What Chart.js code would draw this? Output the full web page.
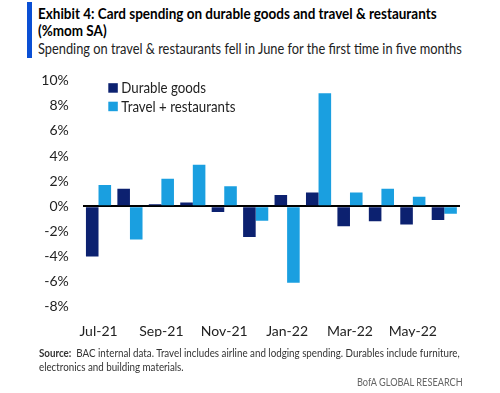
<!DOCTYPE html>
<html>
<head>
<meta charset="utf-8">
<script src="https://cdn.jsdelivr.net/npm/chart.js@4.4.1/dist/chart.umd.min.js"></script>
<style>
  html, body { margin:0; padding:0; background:#fff; }
  body { width:500px; height:393px; position:relative; overflow:hidden; font-family:Lato, sans-serif; }
  #bar { position:absolute; left:27px; top:2px; width:5px; height:56px; background:#0a4fd4; }
  .t { position:absolute; left:38px; white-space:nowrap; color:#000; transform-origin:0 0; }
  #title1 { top:5px; font-weight:bold; font-size:15px; line-height:17px; }
  #title2 { top:22px; font-weight:bold; font-size:15px; line-height:17px; }
  #sub { top:40px; font-size:15.5px; line-height:17px; color:#222; }
  #src1 { top:346px; font-size:11px; left:39px; color:#333; }
  #src2 { top:360px; font-size:11px; left:39px; color:#333; }
  #brand { position:absolute; top:375px; left:357px; font-size:11px; color:#666; white-space:nowrap; transform-origin:0 0; }
  #wrap { position:absolute; left:0; top:0; width:500px; height:393px; }
</style>
</head>
<body>
<div id="bar"></div>
<div class="t" id="title1" data-w="399">Exhibit 4: Card spending on durable goods and travel &amp; restaurants</div>
<div class="t" id="title2" data-w="0">(%mom SA)</div>
<div class="t" id="sub" data-w="424">Spending on travel &amp; restaurants fell in June for the first time in five months</div>
<div id="wrap"><canvas id="c" width="500" height="393"></canvas></div>
<div class="t" id="src1" data-w="421"><b>Source:</b>&nbsp; BAC internal data. Travel includes airline and lodging spending. Durables include furniture,</div>
<div class="t" id="src2" data-w="0">electronics and building materials.</div>
<div id="brand" data-w="106">BofA GLOBAL RESEARCH</div>
<script>
const categories = ["Jul-21","Aug-21","Sep-21","Oct-21","Nov-21","Dec-21","Jan-22","Feb-22","Mar-22","Apr-22","May-22","Jun-22"];
const durableGoods = [-4.0, 1.4, 0.15, 0.3, -0.45, -2.45, 0.9, 1.1, -1.6, -1.2, -1.45, -1.1];
const travelRestaurants = [1.7, -2.65, 2.2, 3.3, 1.6, -1.15, -6.1, 9.0, 1.1, 1.4, 0.75, -0.6];
const yTicks = [-8, -6, -4, -2, 0, 2, 4, 6, 8, 10];

// horizontally condense HTML text to the reference widths
let condense = 1;
[['title1'],['sub'],['src1'],['brand']].forEach(([id]) => {
  const el = document.getElementById(id);
  const w = +el.dataset.w;
  const s = w / el.scrollWidth;
  el.style.transform = 'scaleX(' + s + ')';
  if (id === 'title1') document.getElementById('title2').style.transform = 'scaleX(' + s + ')';
  if (id === 'src1') document.getElementById('src2').style.transform = 'scaleX(' + s + ')';
});

const FONT = 'Lato, sans-serif';

const legendPlugin = {
  id: 'insideLegend',
  afterDraw(chart) {
    const ctx = chart.ctx, a = chart.chartArea;
    ctx.save();
    ctx.font = '15px ' + FONT;
    ctx.textBaseline = 'middle';
    chart.data.datasets.forEach((ds, i) => {
      const x = a.left + 25.5, y = a.top + 2.5 + i * 18.5;
      ctx.fillStyle = ds.backgroundColor;
      ctx.fillRect(x, y, 9.5, 9.5);
      ctx.fillStyle = '#222';
      const tx = x + 13;
      ctx.save();
      ctx.translate(tx, y + 5);
      ctx.scale(0.885, 1);
      ctx.fillText(ds.label, 0, 0);
      ctx.restore();
    });
    ctx.restore();
  }
};

new Chart(document.getElementById('c'), {
  type: 'bar',
  data: {
    labels: categories,
    datasets: [
      { label: 'Durable goods', data: durableGoods, backgroundColor: '#0c2170' },
      { label: 'Travel + restaurants', data: travelRestaurants, backgroundColor: '#1a9fe0' }
    ]
  },
  options: {
    responsive: false,
    animation: false,
    layout: { padding: { top: 80.7, right: 40, bottom: 56.3, left: 0 } },
    plugins: { legend: { display: false }, tooltip: { enabled: false } },
    datasets: { bar: { categoryPercentage: 0.8, barPercentage: 1.0 } },
    scales: {
      x: {
        grid: { display: false },
        border: { display: false },
        ticks: {
          autoSkip: false, maxRotation: 0, padding: 8, color: '#222',
          font: { family: FONT, size: 14 },
          callback: (v, i) => (i % 2 === 0 ? categories[i] : '')
        },
        afterFit: s => { s.height = 30; }
      },
      y: {
        min: -8, max: 10, z: 1,
        afterBuildTicks: s => { s.ticks = yTicks.map(v => ({ value: v })); },
        grid: {
          drawTicks: false,
          color: c => (c.tick && c.tick.value === 0 ? '#000' : 'rgba(0,0,0,0)'),
          lineWidth: 2
        },
        border: { display: false },
        ticks: {
          padding: 14, color: '#222',
          font: { family: FONT, size: 14 },
          callback: v => v + '%'
        },
        afterFit: s => { s.width = 82.8; }
      }
    }
  },
  plugins: [legendPlugin]
});
</script>
</body>
</html>
